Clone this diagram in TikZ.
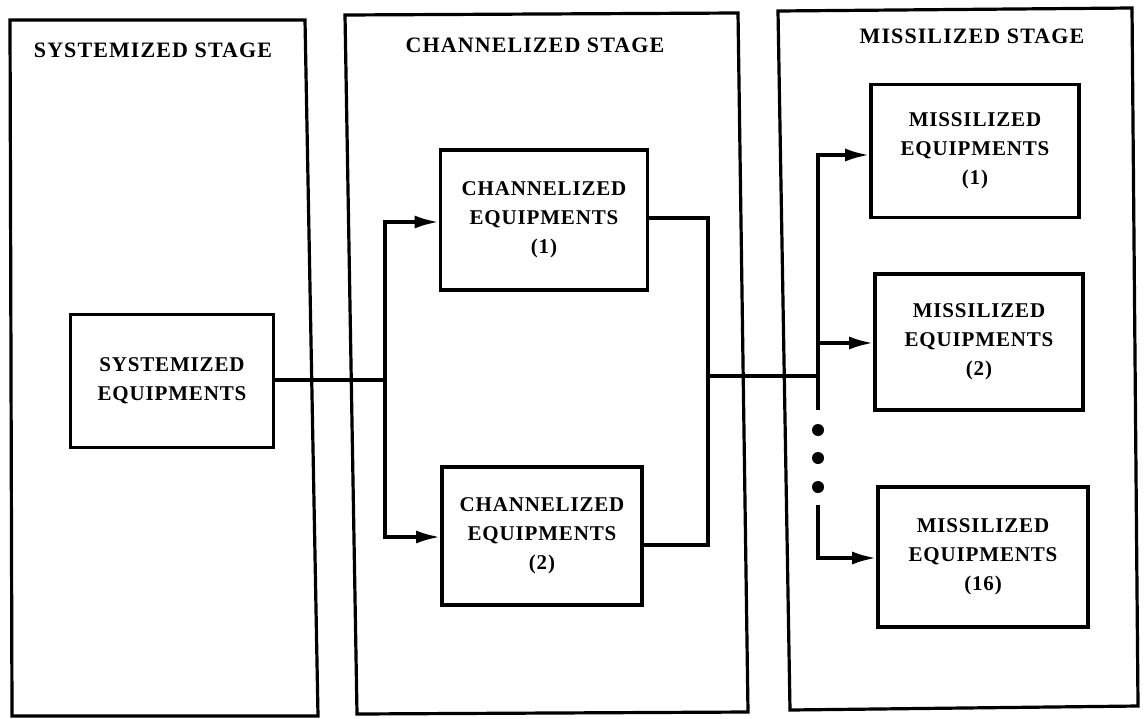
\documentclass[tikz,border=0pt]{standalone}
\usepackage{fontspec}
\setmainfont{Liberation Serif}
\usetikzlibrary{arrows.meta}
\begin{document}
\begin{tikzpicture}[x=1pt,y=-1pt,
  line width=3.4pt,
  stagebox/.style={draw,line width=3.2pt},
  eqbox/.style={draw,line width=3.6pt,align=center,font=\bfseries\fontsize{21}{29}\selectfont\addfontfeatures{LetterSpace=4}},
  stagelabel/.style={font=\bfseries\fontsize{22}{25}\selectfont\addfontfeatures{LetterSpace=5}},
  conn/.style={line width=3.4pt},
  arr/.style={conn,-{Latex[length=24pt,width=13pt]}},
  dotc/.style={fill,circle,inner sep=0pt,minimum size=12pt}]
\useasboundingbox (0,0) rectangle (1145,718);
% stages
\draw[stagebox] (10,20) -- (305,20) -- (318,716) -- (12,716) -- cycle;
\draw[stagebox] (345,15) -- (738,13) -- (748,712) -- (357,714) -- cycle;
\draw[stagebox] (778,11) -- (1132,8) -- (1138,706) -- (790,710) -- cycle;
\node[stagelabel] (s1) at (153,50) {SYSTEMIZED STAGE};
\node[stagelabel] (s2) at (535,45) {CHANNELIZED STAGE};
\node[stagelabel] (s3) at (972,36) {MISSILIZED STAGE};
% equipment boxes
\node[eqbox,minimum width=203pt,minimum height=133pt] (se) at (172,381) {SYSTEMIZED\\EQUIPMENTS};
\node[eqbox,minimum width=207pt,minimum height=140pt] (ce1) at (544,220) {CHANNELIZED\\EQUIPMENTS\\(1)};
\node[eqbox,minimum width=200pt,minimum height=138pt] (ce2) at (542,536) {CHANNELIZED\\EQUIPMENTS\\(2)};
\node[eqbox,minimum width=208pt,minimum height=133pt] (me1) at (975,151) {MISSILIZED\\EQUIPMENTS\\(1)};
\node[eqbox,minimum width=208pt,minimum height=136pt] (me2) at (979,342) {MISSILIZED\\EQUIPMENTS\\(2)};
\node[eqbox,minimum width=210pt,minimum height=140pt] (me16) at (983,557) {MISSILIZED\\EQUIPMENTS\\(16)};
% connectors
\coordinate (j1) at (385,380);
\coordinate (j2) at (708,376);
\coordinate (b1) at (818,376);
\draw[conn] (se.east |- j1) -- (j1);
\draw[arr] (j1) |- (ce1.west |- 0,222);
\draw[arr] (j1) |- (ce2.west |- 0,537);
\draw[conn] (ce1.east |- 0,218) -| (j2) |- (ce2.east |- 0,545);
\draw[conn] (j2) -- (b1);
\draw[arr] (b1) |- (me1.west |- 0,155);
\draw[arr] (b1 |- 0,343) -- (me2.west |- 0,343);
\draw[conn] (b1) -- (818,410);
\coordinate (b2) at (818,505);
\draw[arr] (b2) |- (me16.west |- 0,558);
\node[dotc] (d1) at (818,430) {};
\node[dotc] (d2) at (818,458) {};
\node[dotc] (d3) at (818,487) {};
\end{tikzpicture}
\end{document}
